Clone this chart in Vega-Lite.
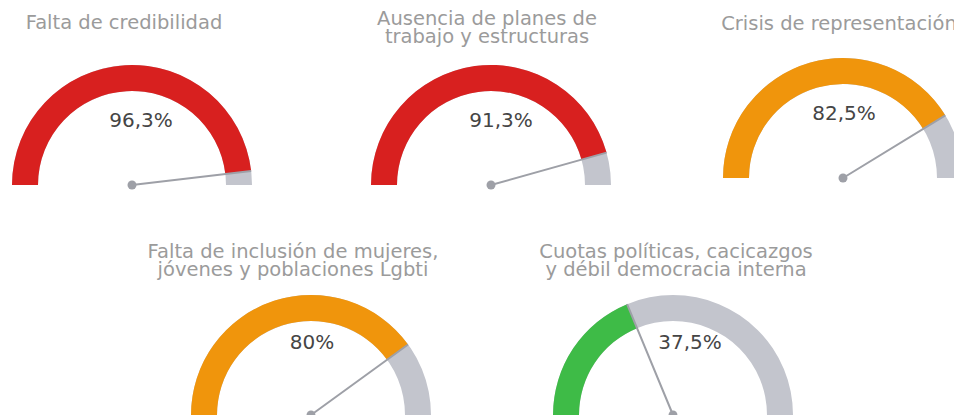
{
  "$schema": "https://vega.github.io/schema/vega-lite/v6.json",
  "background": "white",
  "padding": {"top": 8, "left": 0, "right": 0, "bottom": 0},
  "datasets": {
    "gauges": [
      {"tema": "Falta de credibilidad", "valor": 96.3, "etiqueta": "96,3%"},
      {"tema": "Ausencia de planes de trabajo y estructuras", "valor": 91.3, "etiqueta": "91,3%"},
      {"tema": "Crisis de representación", "valor": 82.5, "etiqueta": "82,5%"},
      {"tema": "Falta de inclusión de mujeres, jóvenes y poblaciones Lgbti", "valor": 80, "etiqueta": "80%"},
      {"tema": "Cuotas políticas, cacicazgos y débil democracia interna", "valor": 37.5, "etiqueta": "37,5%"}
    ]
  },
  "data": {"name": "gauges"},
  "spacing": 51,
  "vconcat": [
    {
      "bounds": "flush",
      "spacing": 0,
      "hconcat": [
        {
          "width": 264, "height": 125,
          "title": {"text": "Falta de credibilidad", "offset": 27, "dx": -8},
          "transform": [{"filter": "datum.tema === 'Falta de credibilidad'"}],
          "layer": [
            {"mark": {"type": "arc", "radius": 120, "radius2": 94, "color": "#c3c5cd", "y": "height", "theta": {"expr": "-PI/2"}, "theta2": {"expr": "PI/2"}}, "encoding": {}},
            {"mark": {"type": "arc", "radius": 120, "radius2": 94, "y": "height"},
             "encoding": {"theta": {"field": "valor", "type": "quantitative", "scale": {"domain": [0, 100], "range": [-1.5707963, 1.5707963]}},
               "color": {"field": "valor", "type": "quantitative", "scale": {"type": "threshold", "domain": [50, 90], "range": ["#3ebb47", "#f0950c", "#d8201f"]}, "legend": null}}},
            {"mark": {"type": "arc", "radius": 120, "radius2": 0, "stroke": "#9ea0a7", "strokeWidth": 2, "y": "height"},
             "encoding": {"theta": {"field": "valor", "type": "quantitative", "stack": null, "scale": {"domain": [0, 100], "range": [-1.5707963, 1.5707963]}}, "theta2": {"field": "valor"}}},
            {"mark": {"type": "circle", "size": 80, "color": "#9ea0a7", "opacity": 1, "y": "height"}, "encoding": {}},
            {"mark": {"type": "text", "font": "DejaVu Sans", "fontSize": 20, "color": "#454545", "y": "height", "dx": 9, "dy": -64, "baseline": "middle"},
             "encoding": {"text": {"field": "etiqueta"}}}
          ]
        },
        {
          "width": 454, "height": 125,
          "title": {"text": ["Ausencia de planes de", "trabajo y estructuras"], "offset": 13, "dx": -4},
          "transform": [{"filter": "datum.tema === 'Ausencia de planes de trabajo y estructuras'"}],
          "layer": [
            {"mark": {"type": "arc", "radius": 120, "radius2": 94, "color": "#c3c5cd", "y": "height", "theta": {"expr": "-PI/2"}, "theta2": {"expr": "PI/2"}}, "encoding": {}},
            {"mark": {"type": "arc", "radius": 120, "radius2": 94, "y": "height"},
             "encoding": {"theta": {"field": "valor", "type": "quantitative", "scale": {"domain": [0, 100], "range": [-1.5707963, 1.5707963]}},
               "color": {"field": "valor", "type": "quantitative", "scale": {"type": "threshold", "domain": [50, 90], "range": ["#3ebb47", "#f0950c", "#d8201f"]}, "legend": null}}},
            {"mark": {"type": "arc", "radius": 120, "radius2": 0, "stroke": "#9ea0a7", "strokeWidth": 2, "y": "height"},
             "encoding": {"theta": {"field": "valor", "type": "quantitative", "stack": null, "scale": {"domain": [0, 100], "range": [-1.5707963, 1.5707963]}}, "theta2": {"field": "valor"}}},
            {"mark": {"type": "circle", "size": 80, "color": "#9ea0a7", "opacity": 1, "y": "height"}, "encoding": {}},
            {"mark": {"type": "text", "font": "DejaVu Sans", "fontSize": 20, "color": "#454545", "y": "height", "dx": 10, "dy": -64, "baseline": "middle"},
             "encoding": {"text": {"field": "etiqueta"}}}
          ]
        },
        {
          "width": 250, "height": 118,
          "title": {"text": "Crisis de representación", "offset": 24, "dx": -4},
          "transform": [{"filter": "datum.tema === 'Crisis de representación'"}],
          "layer": [
            {"mark": {"type": "arc", "radius": 120, "radius2": 94, "color": "#c3c5cd", "y": "height", "theta": {"expr": "-PI/2"}, "theta2": {"expr": "PI/2"}}, "encoding": {}},
            {"mark": {"type": "arc", "radius": 120, "radius2": 94, "y": "height"},
             "encoding": {"theta": {"field": "valor", "type": "quantitative", "scale": {"domain": [0, 100], "range": [-1.5707963, 1.5707963]}},
               "color": {"field": "valor", "type": "quantitative", "scale": {"type": "threshold", "domain": [50, 90], "range": ["#3ebb47", "#f0950c", "#d8201f"]}, "legend": null}}},
            {"mark": {"type": "arc", "radius": 120, "radius2": 0, "stroke": "#9ea0a7", "strokeWidth": 2, "y": "height"},
             "encoding": {"theta": {"field": "valor", "type": "quantitative", "stack": null, "scale": {"domain": [0, 100], "range": [-1.5707963, 1.5707963]}}, "theta2": {"field": "valor"}}},
            {"mark": {"type": "circle", "size": 80, "color": "#9ea0a7", "opacity": 1, "y": "height"}, "encoding": {}},
            {"mark": {"type": "text", "font": "DejaVu Sans", "fontSize": 20, "color": "#454545", "y": "height", "dx": 1, "dy": -64, "baseline": "middle"},
             "encoding": {"text": {"field": "etiqueta"}}}
          ]
        }
      ]
    },
    {
      "bounds": "flush",
      "spacing": 0,
      "hconcat": [
        {
          "width": 622, "height": 125,
          "title": {"text": ["Falta de inclusión de mujeres,", "jóvenes y poblaciones Lgbti"], "offset": 10, "dx": -18},
          "transform": [{"filter": "datum.tema === 'Falta de inclusión de mujeres, jóvenes y poblaciones Lgbti'"}],
          "layer": [
            {"mark": {"type": "arc", "radius": 120, "radius2": 94, "color": "#c3c5cd", "y": "height", "theta": {"expr": "-PI/2"}, "theta2": {"expr": "PI/2"}}, "encoding": {}},
            {"mark": {"type": "arc", "radius": 120, "radius2": 94, "y": "height"},
             "encoding": {"theta": {"field": "valor", "type": "quantitative", "scale": {"domain": [0, 100], "range": [-1.5707963, 1.5707963]}},
               "color": {"field": "valor", "type": "quantitative", "scale": {"type": "threshold", "domain": [50, 90], "range": ["#3ebb47", "#f0950c", "#d8201f"]}, "legend": null}}},
            {"mark": {"type": "arc", "radius": 120, "radius2": 0, "stroke": "#9ea0a7", "strokeWidth": 2, "y": "height"},
             "encoding": {"theta": {"field": "valor", "type": "quantitative", "stack": null, "scale": {"domain": [0, 100], "range": [-1.5707963, 1.5707963]}}, "theta2": {"field": "valor"}}},
            {"mark": {"type": "circle", "size": 80, "color": "#9ea0a7", "opacity": 1, "y": "height"}, "encoding": {}},
            {"mark": {"type": "text", "font": "DejaVu Sans", "fontSize": 20, "color": "#454545", "y": "height", "dx": 1, "dy": -72, "baseline": "middle"},
             "encoding": {"text": {"field": "etiqueta"}}}
          ]
        },
        {
          "width": 102, "height": 125,
          "title": {"text": ["Cuotas políticas, cacicazgos", "y débil democracia interna"], "offset": 10, "dx": 3},
          "transform": [{"filter": "datum.tema === 'Cuotas políticas, cacicazgos y débil democracia interna'"}],
          "layer": [
            {"mark": {"type": "arc", "radius": 120, "radius2": 94, "color": "#c3c5cd", "y": "height", "theta": {"expr": "-PI/2"}, "theta2": {"expr": "PI/2"}}, "encoding": {}},
            {"mark": {"type": "arc", "radius": 120, "radius2": 94, "y": "height"},
             "encoding": {"theta": {"field": "valor", "type": "quantitative", "scale": {"domain": [0, 100], "range": [-1.5707963, 1.5707963]}},
               "color": {"field": "valor", "type": "quantitative", "scale": {"type": "threshold", "domain": [50, 90], "range": ["#3ebb47", "#f0950c", "#d8201f"]}, "legend": null}}},
            {"mark": {"type": "arc", "radius": 120, "radius2": 0, "stroke": "#9ea0a7", "strokeWidth": 2, "y": "height"},
             "encoding": {"theta": {"field": "valor", "type": "quantitative", "stack": null, "scale": {"domain": [0, 100], "range": [-1.5707963, 1.5707963]}}, "theta2": {"field": "valor"}}},
            {"mark": {"type": "circle", "size": 80, "color": "#9ea0a7", "opacity": 1, "y": "height"}, "encoding": {}},
            {"mark": {"type": "text", "font": "DejaVu Sans", "fontSize": 20, "color": "#454545", "y": "height", "dx": 17, "dy": -72, "baseline": "middle"},
             "encoding": {"text": {"field": "etiqueta"}}}
          ]
        }
      ]
    }
  ],
  "config": {
    "view": {"stroke": null},
    "title": {"font": "DejaVu Sans", "fontSize": 19.5, "fontWeight": "normal", "color": "#9b9b9b", "lineHeight": 18, "anchor": "middle", "baseline": "bottom"}
  }
}
